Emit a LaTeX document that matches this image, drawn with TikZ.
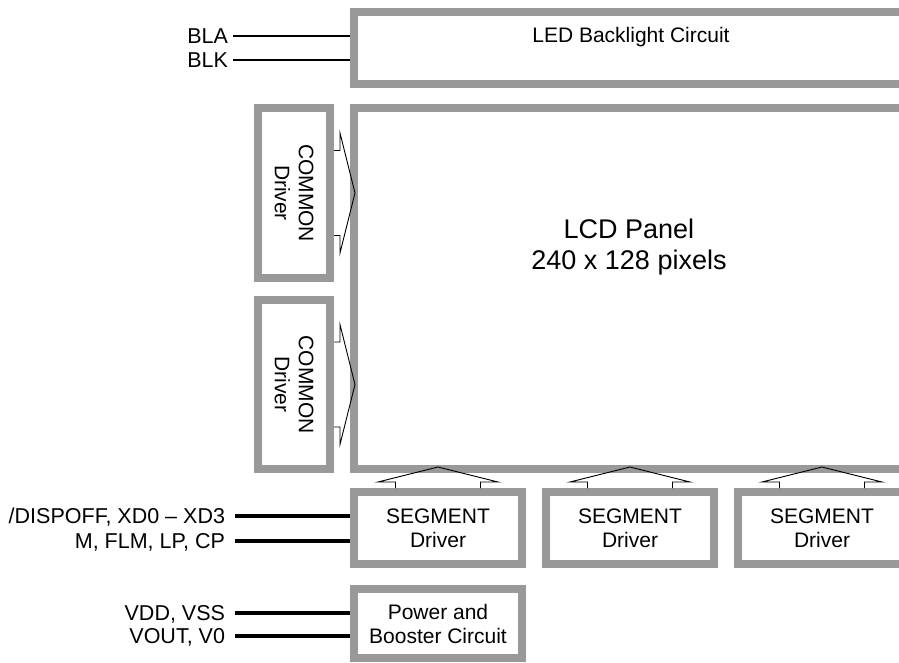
\documentclass[tikz,border=0pt]{standalone}
\usepackage{fontspec}
\setmainfont{Liberation Sans}
\usetikzlibrary{positioning,calc}
\definecolor{framegray}{RGB}{153,153,153}

\begin{document}
\begin{tikzpicture}[
        x=1pt, y=-1pt,
        node distance=16pt,
        frame/.style={rectangle, draw=framegray, line width=8pt, fill=white,
            inner sep=0pt, align=center, font=\fontsize{21}{24}\selectfont},
        drv/.style={frame, minimum width=168pt, minimum height=72pt},
        txt/.style={inner sep=0pt, align=center, font=\fontsize{21}{24}\selectfont},
        sig/.style={anchor=east, inner sep=0pt, outer sep=5pt, text height=15pt,
            text depth=0pt, font=\fontsize{21.5}{24}\selectfont},
        bussig/.style={sig, outer sep=10pt},
        thinline/.style={draw=black, line width=1.2pt},
        busline/.style={draw=black, line width=3.5pt},
        blockarrow/.pic={\draw[line width=0.9pt, line join=miter]
            (0,-42.5) -- (6,-42.5) -- (6,-60) -- (21,0) -- (6,60) -- (6,42.5) -- (0,42.5);}
    ]
    \useasboundingbox (0,0) rectangle (899,662);

    % Panel and backlight
    \node[frame, minimum width=556pt, minimum height=72pt] (led) at (632,48) {};
    \node[txt] (ledtext) at (631,37) {LED Backlight Circuit};
    \node[frame, minimum width=556pt, minimum height=361pt] (lcd) at (632,288.5) {};
    \node[txt, font=\fontsize{27}{31}\selectfont] (lcdtext) at (629,247.5) {LCD Panel\\240 x 128 pixels};

    % Drivers
    \node[frame, minimum width=72pt, minimum height=170pt] (com1) at (294,193) {};
    \node[frame, minimum width=72pt, minimum height=169pt, below=14pt of com1] (com2) {};
    \node[txt, rotate=-90] (com1text) at (com1.center) {COMMON\\Driver};
    \node[txt, rotate=-90] (com2text) at (com2.center) {COMMON\\Driver};

    \node[drv] (seg1) at (438,528) {SEGMENT\\Driver};
    \node[drv, right=of seg1] (seg2) {SEGMENT\\Driver};
    \node[drv, right=of seg2] (seg3) {SEGMENT\\Driver};
    \node[drv, minimum height=69pt, below=17pt of seg1] (power) {Power and\\Booster Circuit};

    % Data paths into the panel
    \pic at (com1.east) {blockarrow};
    \pic at (com2.east) {blockarrow};
    \foreach \s in {seg1,seg2,seg3}
        \pic[rotate=90] at (\s.north) {blockarrow};

    % Interface signals
    \node[sig] (bla) at (233,36) {BLA};
    \node[sig] (blk) at (233,60) {BLK};
    \node[bussig] (dispoff) at (235,516) {/DISPOFF, XD0 – XD3};
    \node[bussig] (mflm) at (235,541) {M, FLM, LP, CP};
    \node[bussig] (vdd) at (235,613) {VDD, VSS};
    \node[bussig] (vout) at (235,636) {VOUT, V0};

    \draw[thinline] (bla.east) -- (bla.east -| led.west);
    \draw[thinline] (blk.east) -- (blk.east -| led.west);
    \draw[busline] (dispoff.east) -- (dispoff.east -| seg1.west);
    \draw[busline] (mflm.east) -- (mflm.east -| seg1.west);
    \draw[busline] (vdd.east) -- (vdd.east -| power.west);
    \draw[busline] (vout.east) -- (vout.east -| power.west);
\end{tikzpicture}
\end{document}
